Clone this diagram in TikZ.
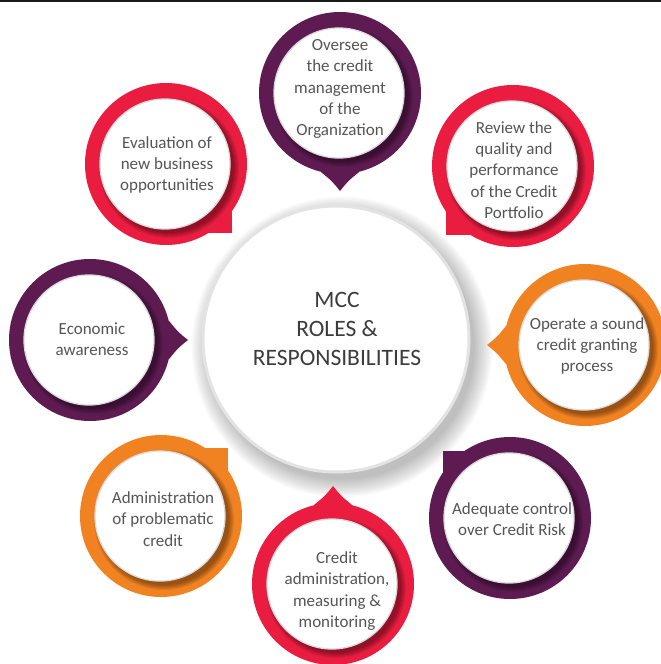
\documentclass[tikz,border=0pt]{standalone}
\usepackage{fontspec}
\setmainfont{Carlito}
\usetikzlibrary{calc}
\definecolor{mpurple}{HTML}{5E1B52}
\definecolor{mred}{HTML}{EA1D41}
\definecolor{morange}{HTML}{F18222}
\definecolor{mtext}{HTML}{555555}
\definecolor{ctext}{HTML}{3C3C3C}
\tikzset{
  itemtext/.style={text=mtext, align=center, font=\fontsize{17}{21.2}\selectfont, inner sep=0pt},
  centertext/.style={text=ctext, align=center, font=\fontsize{23.5}{29}\selectfont, inner sep=0pt},
  ringshadow/.style={fill=black, opacity=0.07},
  innerdisc/.style={fill=white, draw=gray!28, line width=1.3pt},
}
% #1 x, #2 y, #3 colour
\newcommand\ringdisc[3]{%
  \fill[#3] (#1,#2) circle (81pt);
}
\newcommand\innerpart[2]{%
  \foreach \k in {1,...,6}{\fill[ringshadow] (#1+3,#2+4) circle ({64pt+\k*1pt});}
  \filldraw[innerdisc] (#1-1,#2) circle (65pt);
}
% pointer: x y angle colour
\newcommand\pinpointer[4]{%
  \begin{scope}[shift={(#1,#2)}, rotate=#3]
    \fill[#4] (78.6pt,19.6pt) .. controls (88pt,8pt) .. (98pt,0pt)
      .. controls (88pt,-8pt) .. (78.6pt,-19.6pt) -- cycle;
  \end{scope}}
\begin{document}
\begin{tikzpicture}[x=1pt,y=-1pt]
\useasboundingbox (0,0) rectangle (661,664);
\clip (0,0) rectangle (661,664);
\draw[line width=1.6pt, black!90] (0,1) -- (661,1);

% central circle
\foreach \k in {1,...,12}{\fill[black,opacity=0.022] (342,347) circle ({131pt+\k*1.6pt});}
\filldraw[fill=white, draw=gray!22, line width=3pt] (336,339) circle (133pt);
\node[centertext] (center) at (337,329) {MCC\\ROLES \&\\RESPONSIBILITIES};

% top (purple, pin down)
\ringdisc{340}{93}{mpurple}
\pinpointer{340}{93}{-90}{mpurple}
\innerpart{340}{93}
\node[itemtext] (n1) at (340,89) {Oversee\\the credit\\management\\of the\\Organization};

% top right (red, corner bottom-left)
\ringdisc{513}{166}{mred}
\fill[mred] (513,166) rectangle (446,235);
\innerpart{513}{166}
\node[itemtext] (n2) at (514,170) {Review the\\quality and\\performance\\of the Credit\\Portfolio};

% right (orange, pin left)
\ringdisc{585}{345}{morange}
\pinpointer{585}{345}{180}{morange}
\innerpart{585}{345}
\node[itemtext] (n3) at (587,346) {Operate a sound\\credit granting\\process};

% bottom right (purple, corner top-left)
\ringdisc{510}{518}{mpurple}
\fill[mpurple] (510,518) rectangle (443,451);
\innerpart{510}{518}
\node[itemtext] (n4) at (512,519) {Adequate control\\over Credit Risk};

% bottom (red, pin up)
\ringdisc{333}{584}{mred}
\pinpointer{333}{584}{90}{mred}
\innerpart{333}{584}
\node[itemtext] (n5) at (337,591) {Credit\\administration,\\measuring \&\\monitoring};

% bottom left (orange, corner top-right)
\ringdisc{161}{516}{morange}
\fill[morange] (161,516) rectangle (228,448);
\innerpart{161}{516}
\node[itemtext] (n6) at (163,519) {Administration\\of problematic\\credit};

% left (purple, pin right)
\ringdisc{90}{340}{mpurple}
\pinpointer{90}{340}{0}{mpurple}
\innerpart{90}{340}
\node[itemtext] (n7) at (92,339) {Economic\\awareness};

% top left (red, corner bottom-right)
\ringdisc{166}{164}{mred}
\fill[mred] (166,164) rectangle (232,233);
\innerpart{166}{164}
\node[itemtext] (n8) at (167,165) {Evaluation of\\new business\\opportunities};
\end{tikzpicture}
\end{document}
